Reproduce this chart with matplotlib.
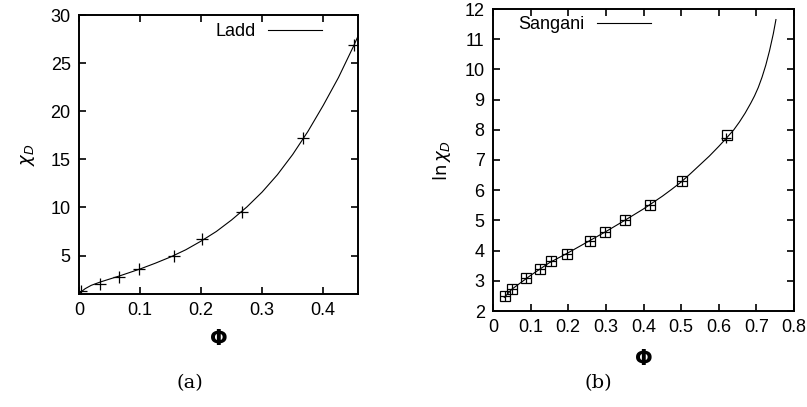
import matplotlib
matplotlib.use("Agg")
import matplotlib.pyplot as plt

# ---- panel (a) data ----
ladd_phi = [0.003, 0.035, 0.066, 0.098, 0.155, 0.202, 0.267, 0.367, 0.450]
ladd_chi = [1.35, 2.05, 2.8, 3.6, 5.0, 6.7, 9.55, 17.2, 26.9]
ladd_curve_phi = [0.0, 0.005, 0.01, 0.02, 0.035, 0.05, 0.066, 0.08, 0.10, 0.125, 0.15, 0.175,
                  0.20, 0.225, 0.25, 0.275, 0.30, 0.325, 0.35, 0.375, 0.40, 0.425, 0.45, 0.457]
ladd_curve_chi = [1.0, 1.3, 1.55, 1.9, 2.25, 2.55, 2.87, 3.17, 3.6, 4.2, 4.85, 5.6,
                  6.5, 7.5, 8.7, 10.05, 11.6, 13.4, 15.5, 17.9, 20.6, 23.5, 26.8, 27.8]

# ---- panel (b) data ----
sang_phi = [0.031, 0.050, 0.088, 0.126, 0.155, 0.196, 0.257, 0.298, 0.350, 0.416, 0.503, 0.621]
sang_lnchi = [2.51, 2.74, 3.09, 3.40, 3.64, 3.89, 4.33, 4.63, 5.01, 5.50, 6.30, 7.84]
sim_phi = [0.031, 0.050, 0.088, 0.126, 0.155, 0.196, 0.257, 0.298, 0.350, 0.416, 0.503, 0.619]
sim_lnchi = [2.51, 2.74, 3.09, 3.40, 3.64, 3.89, 4.33, 4.63, 5.01, 5.50, 6.30, 7.74]
sang_curve_phi = [0.03, 0.05, 0.10, 0.15, 0.20, 0.25, 0.30, 0.35, 0.40, 0.45, 0.475, 0.50,
                  0.525, 0.55, 0.575, 0.60, 0.62, 0.64, 0.655, 0.67, 0.685, 0.695, 0.705,
                  0.715, 0.725, 0.735, 0.745, 0.752]
sang_curve_lnchi = [2.45, 2.72, 3.18, 3.6, 3.93, 4.28, 4.63, 5.0, 5.38, 5.8, 6.03, 6.27,
                    6.55, 6.84, 7.13, 7.45, 7.72, 8.0, 8.26, 8.55, 8.88, 9.12, 9.4,
                    9.74, 10.14, 10.62, 11.18, 11.65]

xticks_a = [0, 0.1, 0.2, 0.3, 0.4]
yticks_a = [5, 10, 15, 20, 25, 30]
xticks_b = [0, 0.1, 0.2, 0.3, 0.4, 0.5, 0.6, 0.7, 0.8]
yticks_b = [2, 3, 4, 5, 6, 7, 8, 9, 10, 11, 12]

W, H = 807, 407
fig = plt.figure(figsize=(W / 100, H / 100), dpi=100)

def ax_at(x0, y0, x1, y1):
    return fig.add_axes([x0 / W, 1 - y1 / H, (x1 - x0) / W, (y1 - y0) / H])

FS = 13

def style(ax):
    for s in ax.spines.values():
        s.set_linewidth(1.4)
    ax.tick_params(direction="in", which="both", top=True, right=True,
                   length=5, width=1.2, pad=6)
    for lab in ax.get_xticklabels() + ax.get_yticklabels():
        lab.set_fontfamily("Liberation Sans")
        lab.set_fontsize(FS)

# panel (a)
axa = ax_at(79, 15, 358, 294)
axa.plot(ladd_curve_phi, ladd_curve_chi, color="black", lw=0.8, label="Ladd")
axa.plot(ladd_phi, ladd_chi, linestyle="none", marker="+", ms=8, mew=0.9, color="black")
axa.set_xlim(0, 0.457)
axa.set_ylim(1, 30)
axa.set_xticks(xticks_a)
axa.set_xticklabels(["0", "0.1", "0.2", "0.3", "0.4"])
axa.set_yticks(yticks_a)
axa.set_yticklabels([str(v) for v in yticks_a])
style(axa)
axa.set_ylabel(r"$\chi_D$", fontsize=13, labelpad=10)
axa.set_xlabel(r"$\mathbf{\Phi}$", fontsize=15, labelpad=7)
axa.legend(loc="upper right", frameon=False, handlelength=3.0, handletextpad=0.7,
           prop=dict(family="Liberation Sans", size=FS),
           bbox_to_anchor=(0.93, 1.03), markerfirst=False)
fig.text(190 / W, 1 - 383 / H, "(a)", ha="center", va="center", fontsize=14,
         family="DejaVu Serif")

# panel (b)
axb = ax_at(493, 9, 794, 311)
axb.plot(sang_curve_phi, sang_curve_lnchi, color="black", lw=0.8, label="Sangani")
axb.plot(sang_phi, sang_lnchi, linestyle="none", marker="s", ms=7, mew=0.9,
         mfc="none", mec="black")
axb.plot(sim_phi, sim_lnchi, linestyle="none", marker="+", ms=7, mew=0.9, color="black")
axb.set_xlim(0, 0.8)
axb.set_ylim(2, 12)
axb.set_xticks(xticks_b)
axb.set_xticklabels(["0", "0.1", "0.2", "0.3", "0.4", "0.5", "0.6", "0.7", "0.8"])
axb.set_yticks(yticks_b)
axb.set_yticklabels([str(v) for v in yticks_b])
style(axb)
axb.set_ylabel(r"$\ln\chi_D$", fontsize=13, labelpad=8)
axb.set_xlabel(r"$\mathbf{\Phi}$", fontsize=15, labelpad=9)
axb.legend(loc="upper left", frameon=False, handlelength=3.0, handletextpad=0.7,
           prop=dict(family="Liberation Sans", size=FS),
           bbox_to_anchor=(0.03, 1.03), markerfirst=False)
fig.text(598 / W, 1 - 383 / H, "(b)", ha="center", va="center", fontsize=14,
         family="DejaVu Serif")

fig.savefig("out.png", dpi=100)
